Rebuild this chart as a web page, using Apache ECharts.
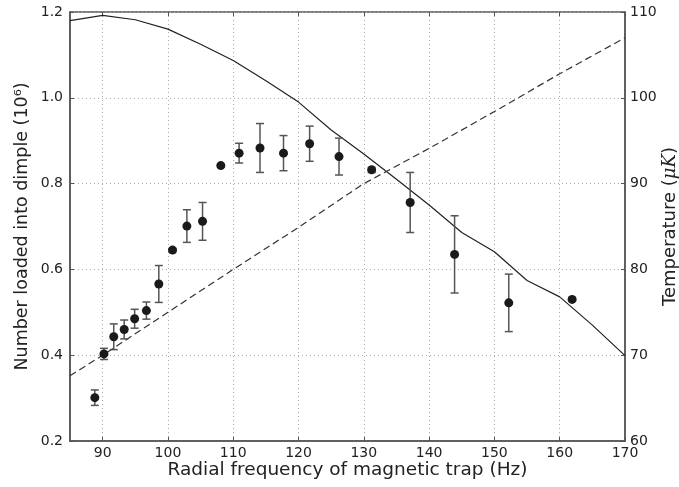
<!DOCTYPE html>
<html>
<head>
<meta charset="utf-8">
<script src="https://cdn.jsdelivr.net/npm/echarts@6/dist/echarts.min.js"></script>
<style>
  html, body { margin: 0; padding: 0; background: #fff; }
  #chart { width: 679px; height: 487px; }
</style>
</head>
<body>
<div id="chart"></div>
<script>
// measured points (frequency Hz, number 1e6, error)
const freq = [88.8, 90.2, 91.7, 93.3, 94.9, 96.7, 98.6, 100.7, 102.9, 105.3, 108.1, 110.9, 114.1, 117.7, 121.7, 126.2, 131.2, 137.1, 143.9, 152.2, 161.9]
const number = [0.301, 0.403, 0.443, 0.460, 0.485, 0.504, 0.566, 0.645, 0.701, 0.712, 0.842, 0.871, 0.883, 0.871, 0.893, 0.863, 0.832, 0.756, 0.635, 0.522, 0.530]
const numberErr = [0.018, 0.013, 0.030, 0.022, 0.022, 0.020, 0.043, 0.004, 0.038, 0.044, 0.003, 0.023, 0.057, 0.041, 0.041, 0.043, 0.006, 0.070, 0.090, 0.067, 0.003]

// solid curve (left axis)
const curveFreq = [85, 90, 95, 100, 105, 110, 115, 120, 125, 130, 135, 140, 145, 150, 155, 160, 165, 170]
const curveNumber = [1.180, 1.192, 1.182, 1.160, 1.125, 1.087, 1.040, 0.990, 0.925, 0.869, 0.810, 0.750, 0.686, 0.641, 0.574, 0.536, 0.470, 0.399]

// temperature, dashed (right axis)
const tempFreq = [85, 90, 100, 110, 120, 130, 140, 150, 160, 170]
const temperature = [67.6, 70.0, 75.0, 80.0, 84.9, 90.0, 94.1, 98.4, 102.8, 107.0]

const xTicks = [90, 100, 110, 120, 130, 140, 150, 160, 170]

const chart = echarts.init(document.getElementById('chart'))

const axisColor = '#555'
const textColor = '#222'
const font = 'DejaVu Sans'
const gridLine = { show: true, lineStyle: { color: '#aaa', type: [1, 3], width: 1 } }

const option = {
  animation: false,
  textStyle: { fontFamily: font },
  grid: {
    left: 70, right: 54, top: 12, bottom: 46,
    outerBoundsMode: 'none',
    show: true, borderColor: axisColor, borderWidth: 1.5
  },
  xAxis: [{
    type: 'value',
    min: 85,
    max: 170,
    name: 'Radial frequency of magnetic trap (Hz)',
    nameLocation: 'middle',
    nameGap: 20,
    nameMoveOverlap: false,
    nameTextStyle: { fontSize: 18.5, color: textColor, fontFamily: font },
    axisLine: { show: true, lineStyle: { color: axisColor, width: 1.5 } },
    axisTick: { show: true, inside: true, length: 4, customValues: xTicks, lineStyle: { color: axisColor } },
    axisLabel: { customValues: xTicks, fontSize: 14, color: textColor, margin: 5, fontFamily: font },
    splitLine: Object.assign({ customValues: xTicks }, gridLine)
  }, {
    type: 'value',
    position: 'top',
    min: 85,
    max: 170,
    axisLine: { show: false },
    axisTick: { show: true, inside: true, length: 4, customValues: xTicks, lineStyle: { color: axisColor } },
    axisLabel: { show: false },
    splitLine: { show: false }
  }],
  yAxis: [{
    type: 'value',
    min: 0.2,
    max: 1.2,
    interval: 0.2,
    name: 'Number loaded into dimple (10⁶)',
    nameLocation: 'middle',
    nameGap: 39,
    nameMoveOverlap: false,
    nameTextStyle: { fontSize: 17.5, color: textColor, fontFamily: font },
    axisLine: { show: true, lineStyle: { color: axisColor, width: 1.5 } },
    axisTick: { show: true, inside: true, length: 4, lineStyle: { color: axisColor } },
    axisLabel: { fontSize: 14, color: textColor, margin: 7, fontFamily: font, formatter: v => v.toFixed(1) },
    splitLine: gridLine
  }, {
    type: 'value',
    min: 60,
    max: 110,
    interval: 10,
    position: 'right',
    name: '{a|Temperature (}{b|μK}{a|)}',
    nameLocation: 'middle',
    nameGap: 36,
    nameRotate: 90,
    nameMoveOverlap: false,
    nameTextStyle: {
      rich: {
        a: { fontSize: 18, color: textColor, fontFamily: font },
        b: { fontSize: 18, color: textColor, fontFamily: 'DejaVu Serif', fontStyle: 'italic' }
      }
    },
    axisLine: { show: true, lineStyle: { color: axisColor, width: 1.5 } },
    axisTick: { show: true, inside: true, length: 4, lineStyle: { color: axisColor } },
    axisLabel: { fontSize: 14, color: textColor, margin: 5, fontFamily: font },
    splitLine: { show: false }
  }],
  series: [{
    type: 'line',
    data: curveFreq.map((f, i) => [f, curveNumber[i]]),
    symbol: 'none',
    lineStyle: { color: '#222', width: 1.2 },
    z: 2
  }, {
    type: 'line',
    yAxisIndex: 1,
    data: tempFreq.map((f, i) => [f, temperature[i]]),
    symbol: 'none',
    lineStyle: { color: '#333', width: 1.2, type: [7, 4] },
    z: 2
  }, {
    type: 'custom',
    data: freq.map((f, i) => [f, number[i], numberErr[i]]),
    renderItem: function (params, api) {
      const x = api.value(0), y = api.value(1), e = api.value(2)
      const lo = api.coord([x, y - e])
      const hi = api.coord([x, y + e])
      const cap = 4
      const style = { stroke: '#555', lineWidth: 1.5 }
      return {
        type: 'group',
        children: [
          { type: 'line', shape: { x1: lo[0], y1: lo[1], x2: hi[0], y2: hi[1] }, style },
          { type: 'line', shape: { x1: lo[0] - cap, y1: lo[1], x2: lo[0] + cap, y2: lo[1] }, style },
          { type: 'line', shape: { x1: hi[0] - cap, y1: hi[1], x2: hi[0] + cap, y2: hi[1] }, style }
        ]
      }
    },
    z: 3
  }, {
    type: 'scatter',
    data: freq.map((f, i) => [f, number[i]]),
    symbolSize: 9,
    itemStyle: { color: '#1a1a1a', opacity: 1 },
    z: 4
  }]
}

chart.setOption(option)
</script>
</body>
</html>
